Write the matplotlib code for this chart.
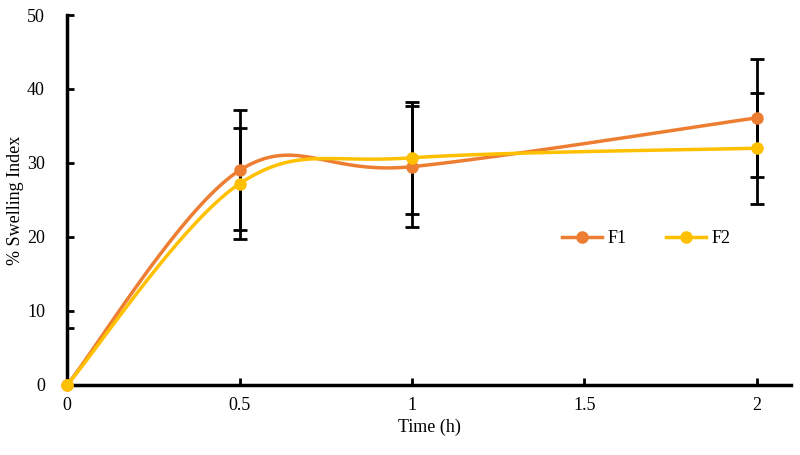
import numpy as np
import matplotlib.pyplot as plt

time_h = [0, 0.5, 1, 1.5, 2]
x_pts = [0, 0.5, 1, 2]
f1 = [0, 29.0, 29.5, 36.1]
f2 = [0, 27.2, 30.7, 32.0]
f1_err = [7.7, 8.1, 8.2, 8.0]
f2_err = [0, 7.5, 7.6, 7.5]
yticks = [0, 10, 20, 30, 40, 50]

plt.rcParams['font.family'] = ['Liberation Serif', 'DejaVu Serif']


def smooth(x, y, n=40):
    # Excel-like smoothed line (Catmull-Rom bezier between points)
    p = np.column_stack([x, y]).astype(float)
    out = []
    for i in range(len(p) - 1):
        p0 = p[i - 1] if i > 0 else p[i]
        p1 = p[i]
        p2 = p[i + 1]
        p3 = p[i + 2] if i + 2 < len(p) else p[i + 1]
        c1 = p1 + (p2 - p0) / 6
        c2 = p2 - (p3 - p1) / 6
        t = np.linspace(0, 1, n)[:, None]
        seg = (1 - t) ** 3 * p1 + 3 * (1 - t) ** 2 * t * c1 + 3 * (1 - t) * t ** 2 * c2 + t ** 3 * p2
        out.append(seg)
    s = np.vstack(out)
    return s[:, 0], s[:, 1]


fig = plt.figure(figsize=(8, 4.55), dpi=100)
ax = fig.add_axes([0.084, 0.154, 0.905, 0.813])

for ys, err, col, lab in [(f1, f1_err, '#ED7D31', 'F1'), (f2, f2_err, '#FFC000', 'F2')]:
    sx, sy = smooth(x_pts, ys)
    ax.plot(sx, sy, color=col, lw=2.5, zorder=3, clip_on=False)
    ax.errorbar(x_pts, ys, yerr=err, fmt='none', ecolor='black', elinewidth=2,
                capsize=5, capthick=2, zorder=2)
    ax.plot(x_pts, ys, 'o', color=col, ms=8, zorder=4, clip_on=False)
    ax.plot([], [], '-o', color=col, lw=2.5, ms=8, label=lab)

ax.set_xlim(0, 2.1)
ax.set_ylim(0, 50)
ax.set_xticks(time_h)
ax.set_xticklabels(['0', '0.5', '1', '1.5', '2'])
ax.set_yticks(yticks)
for s in ['top', 'right']:
    ax.spines[s].set_visible(False)
for s in ['left', 'bottom']:
    ax.spines[s].set_linewidth(2.5)
    ax.spines[s].set_color('black')
ax.tick_params(axis='x', direction='in', length=5, width=2, pad=9, labelsize=13)
ax.tick_params(axis='y', direction='in', length=5, width=2, pad=16, labelsize=13)
ax.set_xlabel('Time (h)', fontsize=13, labelpad=3)
ax.set_ylabel('% Swelling Index', fontsize=13, labelpad=2)

ax.legend(loc='center', bbox_to_anchor=(0.8, 0.395), ncol=2, frameon=False,
          fontsize=13, handlelength=2.2, columnspacing=2.2, handletextpad=0.3)

fig.savefig('out.png', dpi=100)
